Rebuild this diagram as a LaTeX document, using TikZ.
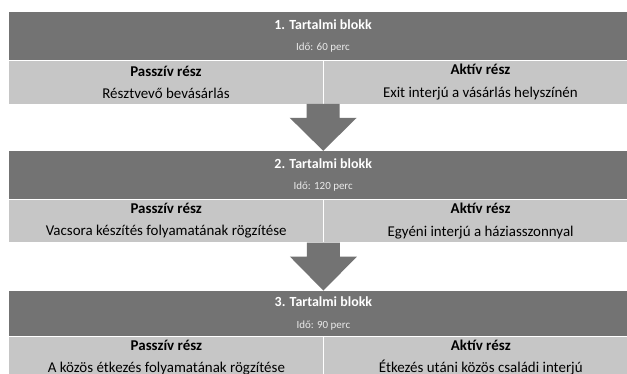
\documentclass[tikz,border=0pt]{standalone}
\usepackage{fontspec}
\setmainfont{Carlito}
\usetikzlibrary{positioning}
\definecolor{darkgray}{RGB}{115,115,115}
\definecolor{lightgray}{RGB}{198,198,198}
\colorlet{subwhite}{white!85!darkgray}
\tikzset{
  head/.style={fill=darkgray,text=white,minimum width=628bp,minimum height=48bp,
    inner sep=0pt,align=center,font=\fontsize{14}{21.5}\selectfont},
  part/.style={fill=lightgray,text=black,minimum width=314bp,minimum height=43bp,
    inner sep=0pt,align=center,font=\fontsize{15}{22.5}\selectfont},
  sep/.style={draw=white,line width=0.8pt},
  bigarrow/.style={fill=darkgray}
}
\newcommand{\blockhead}[2]{\textbf{#1. Tartalmi blokk}\\{\fontsize{11}{21.5}\selectfont\color{subwhite}Idő: #2 perc}}

\begin{document}
\begin{tikzpicture}[x=1bp,y=-1bp,node distance=0pt]
		\useasboundingbox[fill=white] (0,0) rectangle (627,373);
		
		% block 1
		\node[head,anchor=north] (h1) at (323,12) {\blockhead{1}{60}};
		\node[part,below right=0pt of h1.south west] (p1) {\textbf{Passzív rész}\\Résztvevő bevásárlás};
		\node[part,right=0pt of p1] (a1) {\textbf{Aktív rész}\\Exit interjú a vásárlás helyszínén};
		
		% block 2
		\node[head,below=47bp of p1.south east] (h2) {\blockhead{2}{120}};
		\node[part,below right=0pt of h2.south west] (p2) {\textbf{Passzív rész}\\Vacsora készítés folyamatának rögzítése};
		\node[part,right=0pt of p2] (a2) {\textbf{Aktív rész}\\Egyéni interjú a háziasszonnyal};
		
		% block 3
		\node[head,below=48bp of p2.south east,minimum height=45bp] (h3) {\blockhead{3}{90}};
		\node[part,below right=0pt of h3.south west] (p3) {\textbf{Passzív rész}\\A közös étkezés folyamatának rögzítése};
		\node[part,right=0pt of p3] (a3) {\textbf{Aktív rész}\\Étkezés utáni közös családi interjú};
		
		% white lines
		\foreach \n in {1,2,3}{
			\draw[sep] (h\n.south west) -- (h\n.south east);
			\draw[sep] (p\n.north east) -- (p\n.south east);
		}
		
		% arrows between blocks
		\fill[bigarrow] ([xshift=-16.5bp]p1.south east) -- ++(0,14) -- ++(-17,0) -- (h2.north)
			-- ++(33.5,-33) -- ++(-17,0) -- ([xshift=16.5bp]p1.south east) -- cycle;
		\fill[bigarrow] ([xshift=-16.5bp]p2.south east) -- ++(0,14) -- ++(-17,0) -- (h3.north)
			-- ++(33.5,-34) -- ++(-17,0) -- ([xshift=16.5bp]p2.south east) -- cycle;
	\end{tikzpicture}
\end{document}
